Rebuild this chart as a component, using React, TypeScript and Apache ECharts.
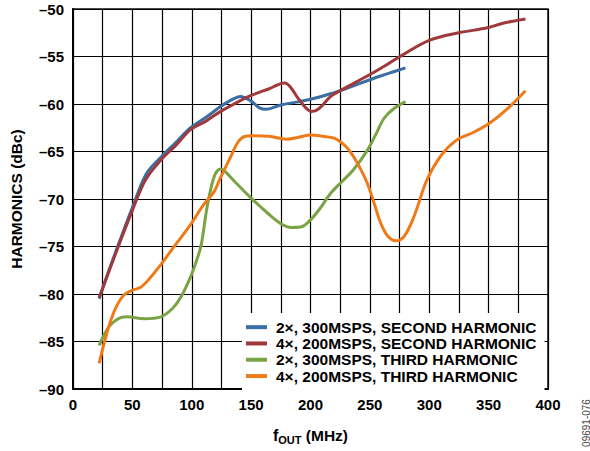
import React, { useEffect, useRef } from "react";
import * as echarts from "echarts";

const seriesNames = [
  "2×, 300MSPS, SECOND HARMONIC",
  "4×, 200MSPS, SECOND HARMONIC",
  "2×, 300MSPS, THIRD HARMONIC",
  "4×, 200MSPS, THIRD HARMONIC",
];

const seriesColors = ["#3a6ea5", "#a0393a", "#7aa344", "#ef7a18"];

const blue2xSecond: [number, number][] = [
  [22, -80.5], [30, -77.6], [40, -74.2], [50, -70.9], [62, -67.3], [74, -65.6],
  [87, -64.0], [99, -62.5], [112, -61.4], [124, -60.3], [133, -59.6], [141, -59.2],
  [150, -59.7], [157, -60.4], [163, -60.55], [175, -60.1], [188, -59.8], [200, -59.5],
  [212, -59.1], [225, -58.6], [240, -57.9], [259, -57.05], [270, -56.6], [280, -56.2],
];

const red4xSecond: [number, number][] = [
  [22, -80.4], [30, -77.7], [40, -74.4], [50, -71.2], [61, -68.0], [74, -65.9],
  [87, -64.3], [99, -62.7], [112, -61.8], [124, -60.8], [137, -59.9], [150, -59.1],
  [166, -58.35], [172, -58.0], [178, -57.8], [183, -58.2], [189, -59.3], [196, -60.4],
  [201, -60.8], [207, -60.5], [217, -59.2], [225, -58.6], [250, -56.9], [265, -55.8],
  [278, -54.8], [300, -53.3], [325, -52.5], [348, -52.0], [362, -51.5], [381, -51.05],
];

const green2xThird: [number, number][] = [
  [22, -85.4], [30, -83.5], [38, -82.6], [45, -82.4], [60, -82.6], [74, -82.4],
  [84, -81.5], [91, -80.3], [99, -78.2], [104, -76.5], [108, -74.8], [113, -70.8],
  [119, -67.6], [124, -66.85], [126, -66.9], [138, -68.4], [150, -69.9], [164, -71.5],
  [175, -72.6], [184, -73.0], [193, -72.9], [200, -72.2], [208, -71.0], [217, -69.4],
  [227, -68.1], [236, -66.95], [248, -64.85], [255, -63.2], [262, -61.5], [270, -60.5],
  [280, -59.75],
];

const orange4xThird: [number, number][] = [
  [22, -87.3], [27, -84.8], [32, -82.7], [37, -81.2], [43, -80.1], [50, -79.6],
  [57, -79.3], [65, -78.3], [74, -76.9], [87, -74.7], [99, -72.7], [110, -70.6],
  [119, -69.2], [124, -67.8], [133, -65.5], [139, -64.0], [145, -63.4], [150, -63.35],
  [165, -63.4], [180, -63.7], [190, -63.5], [200, -63.26], [210, -63.4], [220, -63.6],
  [230, -64.5], [236, -65.5], [242, -66.8], [248, -68.4], [254, -70.6], [259, -72.5],
  [265, -73.9], [272, -74.4], [279, -73.9], [287, -71.9], [298, -68.0], [310, -65.4],
  [323, -63.8], [337, -63.0], [351, -62.0], [365, -60.6], [381, -58.6],
];

const seriesData = [blue2xSecond, red4xSecond, green2xThird, orange4xThird];

const FONT = "'Liberation Sans', Arial, Helvetica, sans-serif";

export default function App() {
  const ref = useRef<HTMLDivElement>(null);

  useEffect(() => {
    if (!ref.current) return;
    const chart = echarts.init(ref.current, null, { renderer: "svg" });
    const fmt = (v: number) => (v < 0 ? "\u2013" + Math.abs(v) : String(v));
    chart.setOption({
      animation: false,
      textStyle: { fontFamily: FONT },
      grid: {
        left: 72,
        right: 42,
        top: 9,
        bottom: 62,
        show: true,
        borderColor: "#111",
        borderWidth: 1.5,
        containLabel: false,
      },
      xAxis: {
        type: "value",
        min: 0,
        max: 400,
        interval: 25,
        axisLine: { show: true, lineStyle: { color: "#000", width: 2 } },
        axisTick: { show: true, inside: true, length: 4, lineStyle: { color: "#000" } },
        splitLine: { show: true, lineStyle: { color: "#000", width: 1.2 } },
        axisLabel: {
          margin: 8,
          color: "#000",
          fontFamily: FONT,
          fontWeight: "bold",
          fontSize: 15,
          formatter: (v: number) => (v % 50 === 0 ? String(v) : ""),
        },
        name: "{f|f}{s|OUT}{m| (MHz)}",
        nameLocation: "middle",
        nameGap: 36,
        nameTextStyle: {
          rich: {
            f: { fontFamily: FONT, fontWeight: "bold", fontSize: 16, color: "#000", lineHeight: 20, verticalAlign: "middle" },
            s: { fontFamily: FONT, fontWeight: "bold", fontSize: 11, color: "#000", lineHeight: 12, verticalAlign: "bottom" },
            m: { fontFamily: FONT, fontWeight: "bold", fontSize: 15.5, color: "#000", lineHeight: 20, verticalAlign: "middle" },
          },
        },
      },
      yAxis: {
        type: "value",
        min: -90,
        max: -50,
        interval: 5,
        axisLine: { show: true, lineStyle: { color: "#000", width: 2 } },
        axisTick: { show: true, inside: true, length: 4, lineStyle: { color: "#000" } },
        splitLine: { show: true, lineStyle: { color: "#000", width: 1.2 } },
        axisLabel: {
          margin: 9,
          color: "#000",
          fontFamily: FONT,
          fontWeight: "bold",
          fontSize: 15,
          formatter: fmt,
        },
        name: "HARMONICS (dBc)",
        nameLocation: "middle",
        nameGap: 49,
        nameTextStyle: { fontFamily: FONT, fontWeight: "bold", fontSize: 15.5, color: "#000" },
      },
      legend: {
        data: seriesNames,
        orient: "vertical",
        left: 242,
        top: 313,
        itemWidth: 21,
        itemHeight: 4,
        itemGap: 0,
        icon: "rect",
        backgroundColor: "#fff",
        padding: [6, 8, 7, 4],
        textStyle: {
          fontFamily: FONT,
          fontWeight: "bold",
          fontSize: 15.5,
          color: "#000",
          lineHeight: 16.3,
          padding: [0, 0, 0, 4],
        },
      },
      graphic: [
        {
          type: "text",
          x: 586,
          y: 423,
          rotation: Math.PI / 2,
          style: {
            text: "09691-076",
            fontFamily: FONT,
            fontSize: 10,
            fill: "#444",
            align: "center",
            verticalAlign: "middle",
          },
        },
      ],
      series: seriesNames.map((name, i) => ({
        name,
        type: "line",
        data: seriesData[i],
        smooth: 0.35,
        showSymbol: false,
        symbol: "none",
        lineStyle: { color: seriesColors[i], width: 3 },
        itemStyle: { color: seriesColors[i] },
        z: 2 + i,
      })),
    });
    return () => chart.dispose();
  }, []);

  return (
    <div
      ref={ref}
      style={{ position: "fixed", left: 0, top: 0, width: 590, height: 451, background: "#fff" }}
    />
  );
}
